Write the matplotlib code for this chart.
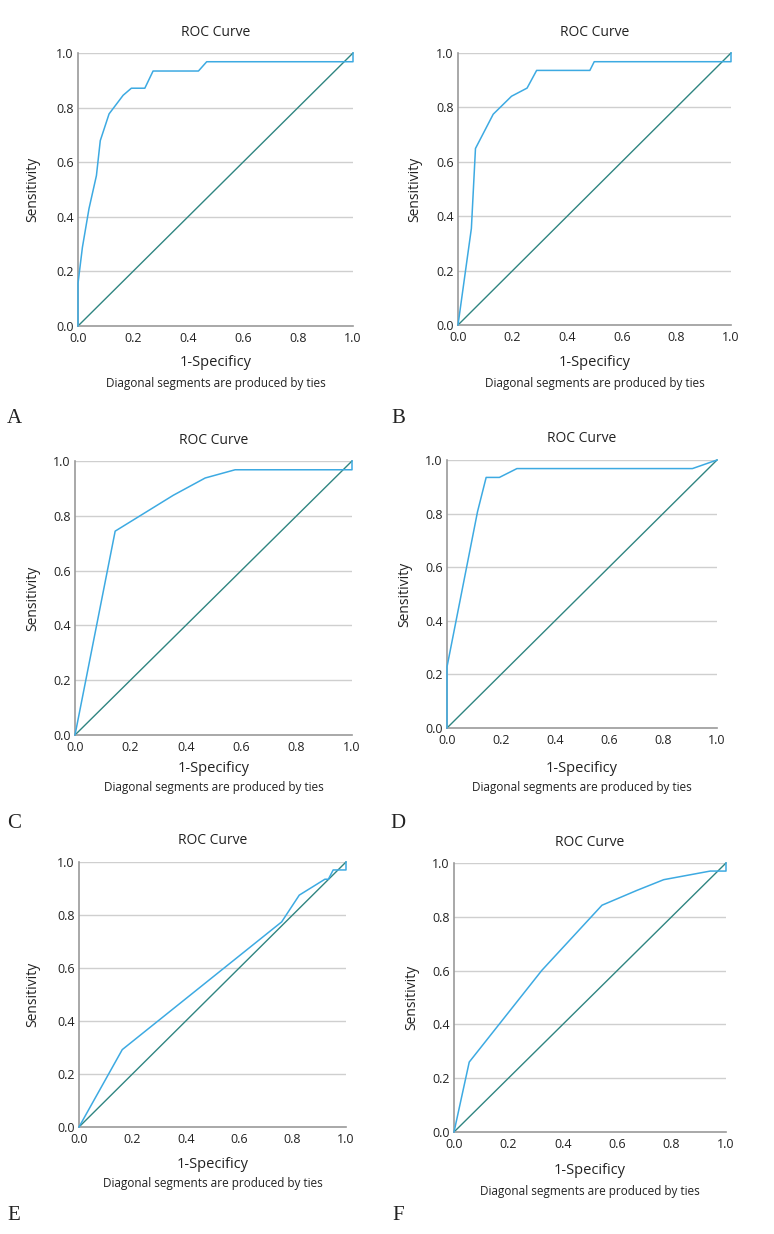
import matplotlib
matplotlib.use("Agg")
import matplotlib.pyplot as plt

plt.rcParams['font.family'] = ['Open Sans', 'DejaVu Sans']

W, H = 774, 1234

# ROC data (1-Specificity, Sensitivity) per panel
a_fpr = [0.0, 0.0, 0.016, 0.040, 0.067, 0.081, 0.113, 0.164, 0.194, 0.243, 0.273, 0.438, 0.468, 1.0, 1.0]
a_tpr = [0.0, 0.156, 0.288, 0.430, 0.551, 0.679, 0.777, 0.845, 0.871, 0.871, 0.934, 0.934, 0.968, 0.968, 1.0]

b_fpr = [0.0, 0.049, 0.064, 0.129, 0.196, 0.253, 0.288, 0.483, 0.499, 1.0, 1.0]
b_tpr = [0.0, 0.355, 0.649, 0.775, 0.841, 0.871, 0.936, 0.936, 0.968, 0.968, 1.0]

c_fpr = [0.0, 0.145, 0.355, 0.470, 0.578, 1.0, 1.0]
c_tpr = [0.0, 0.744, 0.875, 0.938, 0.968, 0.968, 1.0]

d_fpr = [0.0, 0.0, 0.113, 0.145, 0.194, 0.259, 0.909, 1.0]
d_tpr = [0.0, 0.228, 0.807, 0.935, 0.935, 0.968, 0.968, 1.0]

e_fpr = [0.0, 0.162, 0.759, 0.825, 0.921, 0.934, 0.952, 1.0, 1.0]
e_tpr = [0.0, 0.292, 0.774, 0.875, 0.935, 0.935, 0.970, 0.970, 1.0]

f_fpr = [0.0, 0.056, 0.323, 0.544, 0.672, 0.771, 0.942, 1.0, 1.0]
f_tpr = [0.0, 0.260, 0.601, 0.843, 0.898, 0.938, 0.970, 0.970, 1.0]

ref_line = [0.0, 1.0]
ticks = [0.0, 0.2, 0.4, 0.6, 0.8, 1.0]
tick_labels = ["0.0", "0.2", "0.4", "0.6", "0.8", "1.0"]
panel_letters = ["A", "B", "C", "D", "E", "F"]

# axes boxes in pixels: left, top, right, bottom
boxes = [
    (78, 53, 353, 326),
    (458, 53, 731, 325),
    (75, 461, 352, 735),
    (447, 460, 717, 728),
    (79, 862, 346, 1127),
    (454, 863, 726, 1132),
]
# label offsets: (xlabel offset below, note offset below, ylabel x)
label_pos = [
    (37, 58, 33),
    (37, 58, 415),
    (33, 53, 33),
    (40, 60, 405),
    (37, 57, 33),
    (38, 59, 412),
]
letter_pos = [(14, 418), (398, 418), (14, 824), (398, 824), (14, 1215), (398, 1215)]

curves = [(a_fpr, a_tpr), (b_fpr, b_tpr), (c_fpr, c_tpr),
          (d_fpr, d_tpr), (e_fpr, e_tpr), (f_fpr, f_tpr)]

BLUE = "#3daae2"
TEAL = "#2f8581"
GRID = "#cfcfcf"
SPINE = "#9a9a9a"
TXT = "#222222"

fig = plt.figure(figsize=(W / 100, H / 100), dpi=100)

def fx(x):
    return x / W

def fy(y):
    return 1 - y / H

for i, ((l, t, r, b), (xs, ys)) in enumerate(zip(boxes, curves)):
    ax = fig.add_axes([fx(l), fy(b), (r - l) / W, (b - t) / H])
    ax.set_xlim(0, 1)
    ax.set_ylim(0, 1)
    for yv in ticks[1:]:
        ax.axhline(yv, color=GRID, lw=1.0, zorder=0)
    ax.plot(ref_line, ref_line, color=TEAL, lw=1.0, zorder=2, clip_on=False)
    ax.plot(xs, ys, color=BLUE, lw=1.1, zorder=3, clip_on=False)
    for s in ['top', 'right']:
        ax.spines[s].set_visible(False)
    for s in ['left', 'bottom']:
        ax.spines[s].set_color(SPINE)
        ax.spines[s].set_linewidth(1.2)
    ax.set_xticks(ticks)
    ax.set_yticks(ticks)
    ax.set_xticklabels(tick_labels)
    ax.set_yticklabels(tick_labels)
    ax.tick_params(length=0, labelsize=9, colors=TXT)
    ax.tick_params(axis='x', pad=4)
    ax.tick_params(axis='y', pad=3)
    cx = (l + r) / 2
    fig.text(fx(cx), fy(t - 21), "ROC Curve", ha='center', va='center', fontsize=10, color=TXT)
    xo, no, yx = label_pos[i]
    fig.text(fx(cx), fy(b + xo), "1-Specificy", ha='center', va='center', fontsize=10.5, color=TXT)
    fig.text(fx(cx), fy(b + no), "Diagonal segments are produced by ties", ha='center', va='center',
             fontsize=8.5, color=TXT)
    fig.text(fx(yx), fy((t + b) / 2), "Sensitivity", ha='center', va='center', rotation=90,
             fontsize=10, color=TXT)
    lx, ly = letter_pos[i]
    fig.text(fx(lx), fy(ly), panel_letters[i], ha='center', va='center', fontsize=15,
             family=['Liberation Serif', 'DejaVu Serif'], color=TXT)

fig.savefig("out.png", dpi=100)
